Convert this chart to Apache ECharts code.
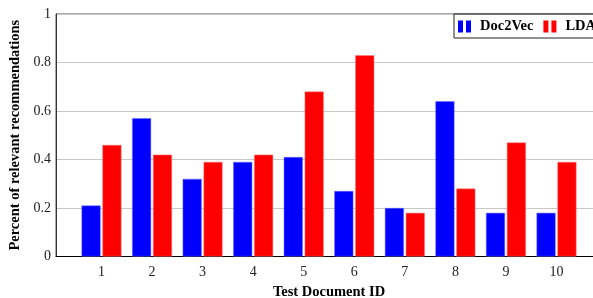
<!DOCTYPE html>
<html>
<head>
<meta charset="utf-8">
<script src="https://cdn.jsdelivr.net/npm/echarts@6/dist/echarts.min.js"></script>
<style>
  html, body { margin: 0; padding: 0; background: #fff; }
  #chart { width: 593px; height: 298px; }
</style>
</head>
<body>
<div id="chart"></div>
<script>
// data
var docIds = [1, 2, 3, 4, 5, 6, 7, 8, 9, 10];
var doc2vec = [0.21, 0.57, 0.32, 0.39, 0.41, 0.27, 0.20, 0.64, 0.18, 0.18];
var lda = [0.46, 0.42, 0.39, 0.42, 0.68, 0.83, 0.18, 0.28, 0.47, 0.39];
var yTicks = [0, 0.2, 0.4, 0.6, 0.8, 1];

var serif = 'Liberation Serif';
var barIcon = 'path://M0,0h5v12h-5zM8,0h5v12h-5z';

function pairs(vals) {
    return docIds.map(function (id, i) { return [id, vals[i]]; });
}

var myChart = echarts.init(document.getElementById('chart'));

var option = {
    animation: false,
    grid: {
        left: 56, top: 14, right: -9, bottom: 41.5,
        show: true, borderColor: '#555', borderWidth: 1,
        outerBoundsMode: 'none'
    },
    legend: {
        orient: 'horizontal',
        left: 454, top: 14, width: 220,
        padding: [5, 10, 4, 4],
        borderColor: '#222', borderWidth: 1,
        itemWidth: 13, itemHeight: 12, itemGap: 10,
        itemStyle: { borderWidth: 0 },
        textStyle: { fontFamily: serif, fontWeight: 'bold', fontSize: 14.5, color: '#000', padding: [0, 0, 0, 4] },
        data: [
            { name: 'Doc2Vec', icon: barIcon },
            { name: 'LDA', icon: barIcon }
        ]
    },
    xAxis: {
        type: 'value',
        min: 0.1, max: 10.9,
        name: 'Test Document ID',
        nameLocation: 'middle',
        nameGap: 28,
        nameTextStyle: { fontFamily: serif, fontWeight: 'bold', fontSize: 14.5, color: '#000' },
        axisLine: { show: true, lineStyle: { color: '#000', width: 1 } },
        axisTick: { show: false },
        splitLine: { show: false },
        axisLabel: {
            customValues: docIds,
            fontFamily: serif, fontSize: 14, color: '#222', margin: 9
        }
    },
    yAxis: {
        type: 'value',
        min: 0, max: 1, interval: 0.2,
        name: 'Percent of relevant recommendations',
        nameLocation: 'middle',
        nameGap: 30,
        nameTextStyle: { fontFamily: serif, fontWeight: 'bold', fontSize: 14.5, color: '#000' },
        axisLine: { show: true, lineStyle: { color: '#333', width: 1 } },
        axisTick: { show: false },
        splitLine: { show: true, lineStyle: { color: '#c8c8c8', width: 1 } },
        axisLabel: {
            customValues: yTicks,
            formatter: function (v) { return String(v); },
            fontFamily: serif, fontSize: 14, color: '#222', margin: 5
        }
    },
    series: [
        {
            name: 'Doc2Vec', type: 'bar',
            barWidth: 19, barGap: '10%',
            itemStyle: { color: '#0000ff', borderColor: '#6a6aff', borderWidth: 0.5 },
            data: pairs(doc2vec)
        },
        {
            name: 'LDA', type: 'bar',
            barWidth: 19, barGap: '10%',
            itemStyle: { color: '#ff0000', borderColor: '#ff7a7a', borderWidth: 0.5 },
            data: pairs(lda)
        }
    ]
};

myChart.setOption(option);
</script>
</body>
</html>
